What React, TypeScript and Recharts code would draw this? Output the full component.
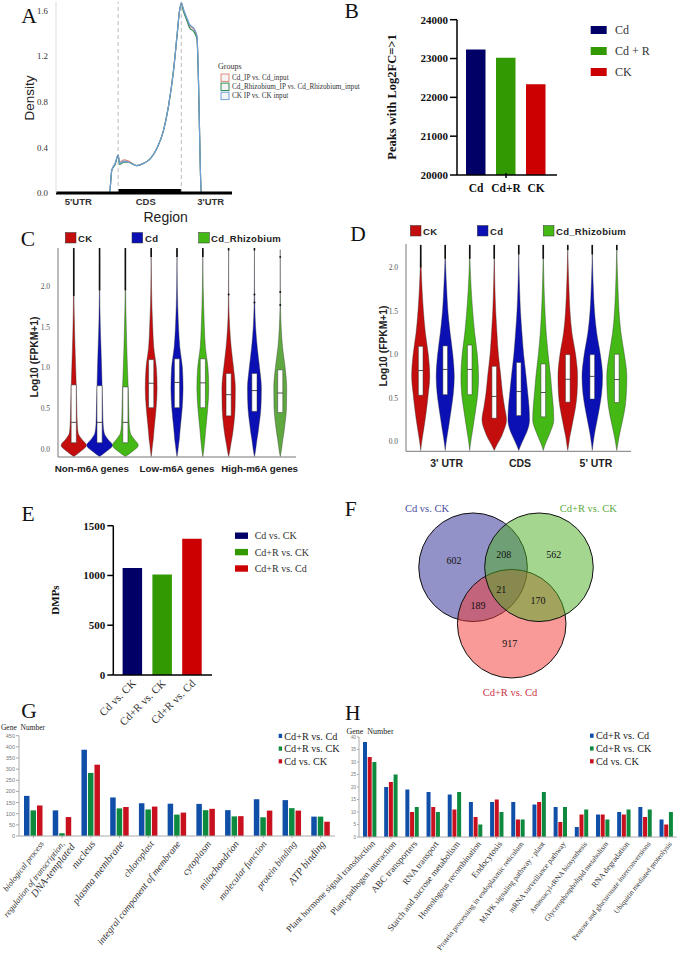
import {
  Area,
  Bar,
  BarChart,
  Cell,
  ComposedChart,
  Line,
  LineChart,
  ReferenceArea,
  ReferenceDot,
  ReferenceLine,
  Scatter,
  ScatterChart,
  XAxis,
  YAxis,
} from 'recharts';

const SERIF = '"Liberation Serif", serif';
const SANS = '"Liberation Sans", sans-serif';

// Panel A
const regionPos = [0, 30.4, 31.7, 33.6, 35.3, 36.1, 38.7, 41.2, 45.9, 49.7, 53.5, 57.3, 61.1, 63.9, 66.8, 68.7, 70.2, 71.2, 72.5, 74, 75.9, 78.6, 80.1, 81, 82, 82.5, 100];
const cdDensity = [0, 0, 0.2, 0.26, 0.33, 0.27, 0.29, 0.28, 0.24, 0.26, 0.3, 0.39, 0.55, 0.76, 1.08, 1.37, 1.6, 1.67, 1.6, 1.54, 1.47, 1.43, 1.37, 0.96, 0.22, 0, 0];
const rhizoDensity = [0, 0, 0.2, 0.25, 0.33, 0.25, 0.27, 0.27, 0.24, 0.26, 0.3, 0.39, 0.55, 0.76, 1.08, 1.37, 1.6, 1.66, 1.59, 1.53, 1.45, 1.41, 1.35, 0.95, 0.22, 0, 0];
const ckDensity = [0, 0, 0.2, 0.26, 0.33, 0.26, 0.28, 0.27, 0.24, 0.26, 0.3, 0.39, 0.55, 0.76, 1.08, 1.37, 1.6, 1.67, 1.61, 1.55, 1.48, 1.44, 1.38, 0.96, 0.22, 0, 0];
const densityTicks = [0, 0.4, 0.8, 1.2, 1.6];
const regionTicks = [12.7, 51, 87.9];
const regionLabels = ["5'UTR", 'CDS', "3'UTR"];
const groupLegend = ['Cd_IP vs. Cd_input', 'Cd_Rhizobium_IP vs. Cd_Rhizobium_input', 'CK IP vs. CK input'];

// Panel B
const peakGroups = ['Cd', 'Cd+R', 'CK'];
const peakValues = [23230, 23020, 22340];
const peakLegend = ['Cd', 'Cd + R', 'CK'];
const peakTicks = [20000, 21000, 22000, 23000, 24000];

// Panel C
const levelsC = [-0.09, -0.03, 0.05, 0.12, 0.2, 0.3, 0.5, 0.75, 1.0, 1.25, 1.5, 1.75, 2.0, 2.45];
const widthsC = [
  [0, 0.25, 0.49, 0.32, 0.17, 0.14, 0.12, 0.1, 0.075, 0.05, 0.03, 0.015, 0.006, 0],
  [0, 0.25, 0.5, 0.33, 0.18, 0.14, 0.12, 0.1, 0.08, 0.055, 0.03, 0.015, 0.006, 0],
  [0, 0.26, 0.5, 0.35, 0.19, 0.15, 0.13, 0.11, 0.08, 0.055, 0.035, 0.018, 0.007, 0],
  [0, 0.025, 0.05, 0.08, 0.1, 0.13, 0.19, 0.23, 0.2, 0.1, 0.06, 0.03, 0.013, 0],
  [0, 0.03, 0.06, 0.09, 0.11, 0.14, 0.2, 0.235, 0.21, 0.11, 0.06, 0.03, 0.012, 0],
  [0, 0.03, 0.055, 0.08, 0.1, 0.13, 0.19, 0.23, 0.2, 0.1, 0.06, 0.035, 0.015, 0],
  [0, 0.04, 0.08, 0.12, 0.16, 0.2, 0.25, 0.26, 0.19, 0.1, 0.04, 0.012, 0.004, 0],
  [0, 0.035, 0.07, 0.1, 0.14, 0.18, 0.25, 0.27, 0.2, 0.11, 0.045, 0.015, 0.004, 0],
  [0, 0.035, 0.07, 0.1, 0.14, 0.18, 0.24, 0.25, 0.19, 0.09, 0.035, 0.01, 0.003, 0],
];
const boxesC = [
  [0.08, 0.33, 0.79],
  [0.08, 0.33, 0.78],
  [0.08, 0.33, 0.765],
  [0.51, 0.81, 1.1],
  [0.51, 0.82, 1.11],
  [0.51, 0.815, 1.11],
  [0.41, 0.67, 0.93],
  [0.465, 0.72, 0.93],
  [0.45, 0.69, 0.975],
];
const tailStartC = [1.88, 1.95, 1.95, 2.36, 2.36, 2.36, 2.44, 2.44, 2.35];
const topC = [2.47, 2.47, 2.47, 2.47, 2.47, 2.47, 2.47, 2.47, 2.37];
const outliersC = [
  { pos: 7, y: 1.9 },
  { pos: 8, y: 1.9 },
  { pos: 8, y: 1.8 },
  { pos: 9, y: 1.93 },
  { pos: 9, y: 1.77 },
];
const ticksC = [0, 0.5, 1, 1.5, 2];
const groupTicksC = [1.7, 5, 8.2];
const groupLabelsC = ['Non-m6A genes', 'Low-m6A genes', 'High-m6A genes'];

// Panel D
const levelsD = [-0.1, -0.03, 0.05, 0.12, 0.25, 0.4, 0.55, 0.75, 1.0, 1.25, 1.5, 1.75, 2.0, 2.25];
const widthsD = [
  [0, 0.03, 0.07, 0.11, 0.18, 0.25, 0.31, 0.37, 0.31, 0.19, 0.11, 0.055, 0.02, 0],
  [0, 0.03, 0.07, 0.11, 0.18, 0.26, 0.33, 0.37, 0.31, 0.2, 0.11, 0.06, 0.02, 0],
  [0, 0.03, 0.07, 0.11, 0.18, 0.26, 0.33, 0.36, 0.31, 0.2, 0.12, 0.06, 0.02, 0],
  [0, 0.12, 0.28, 0.38, 0.5, 0.42, 0.34, 0.27, 0.17, 0.11, 0.06, 0.03, 0.012, 0],
  [0, 0.1, 0.23, 0.34, 0.44, 0.42, 0.37, 0.3, 0.2, 0.13, 0.07, 0.035, 0.012, 0],
  [0, 0.08, 0.2, 0.3, 0.43, 0.41, 0.36, 0.3, 0.2, 0.12, 0.07, 0.035, 0.014, 0],
  [0, 0.04, 0.08, 0.13, 0.22, 0.32, 0.38, 0.4, 0.32, 0.17, 0.09, 0.05, 0.02, 0],
  [0, 0.03, 0.07, 0.11, 0.2, 0.3, 0.38, 0.42, 0.33, 0.18, 0.09, 0.045, 0.015, 0],
  [0, 0.04, 0.09, 0.14, 0.24, 0.34, 0.39, 0.41, 0.31, 0.17, 0.09, 0.05, 0.02, 0],
];
const boxesD = [
  [0.534, 0.817, 1.095],
  [0.54, 0.83, 1.1],
  [0.54, 0.83, 1.11],
  [0.27, 0.52, 0.866],
  [0.3, 0.576, 0.91],
  [0.286, 0.565, 0.893],
  [0.454, 0.717, 1.0],
  [0.49, 0.75, 1.0],
  [0.45, 0.714, 1.004],
];
const tailStartD = [2.0, 2.1, 2.1, 2.1, 2.15, 2.1, 2.2, 2.15, 2.2];
const topD = [2.26, 2.26, 2.26, 2.26, 2.26, 2.26, 2.26, 2.26, 2.26];
const ticksD = [0, 0.5, 1, 1.5, 2];
const groupTicksD = [2.06, 5.05, 8.15];
const groupLabelsD = ["3' UTR", 'CDS', "5' UTR"];

const violinLegend = ['CK', 'Cd', 'Cd_Rhizobium'];

// Panel E
const dmpGroups = ['Cd vs. CK', 'Cd+R vs. CK', 'Cd+R vs. Cd'];
const dmpValues = [1075, 1010, 1370];
const dmpTicks = [0, 500, 1000, 1500];

// Panel F, drawn blue, red, green so the green set sits on top
const vennSets = [
  { name: 'Cd vs. CK', x: -0.607, y: 0.326 },
  { name: 'Cd+R vs. Cd', x: 0.105, y: -0.713 },
  { name: 'Cd+R vs. CK', x: 0.607, y: 0.326 },
];
const vennFills = ['#252591', '#f33531', '#4bad21'];
const vennCounts = [
  { count: 602, x: -0.96, y: 0.45 },
  { count: 208, x: -0.04, y: 0.566 },
  { count: 562, x: 0.88, y: 0.566 },
  { count: 21, x: -0.086, y: -0.09 },
  { count: 189, x: -0.516, y: -0.375 },
  { count: 170, x: 0.589, y: -0.29 },
  { count: 917, x: 0.068, y: -1.074 },
];

// Panel G
const goTerms = [
  'biological process',
  'regulation of transcription,\nDNA-templated',
  'nucleus',
  'plasma membrane',
  'chloroplast',
  'integral component of membrane',
  'cytoplasm',
  'mitochondrion',
  'molecular function',
  'protein binding',
  'ATP binding',
];
const goFontSizes = [8.3, 8.6, 10.5, 10.5, 9.5, 9.7, 10, 10, 9.5, 9.5, 10.5];
const goShiftX = [11, 3, 5, 5, 6, 4, 6, 5, 4, 5, 5];
const goCdRvsCd = [180, 115, 387, 173, 147, 145, 144, 116, 165, 161, 87];
const goCdRvsCk = [115, 12, 283, 124, 119, 96, 116, 88, 84, 125, 87];
const goCdvsCk = [137, 85, 320, 130, 132, 105, 122, 89, 114, 114, 64];
const goTicks = [0, 50, 100, 150, 200, 250, 300, 350, 400, 450];

// Panel H
const pathways = [
  'Plant hormone signal transduction',
  'Plant-pathogen interaction',
  'ABC transporters',
  'RNA transport',
  'Starch and sucrose metabolism',
  'Homologous recombination',
  'Endocytosis',
  'Protein processing in endoplasmic reticulum',
  'MAPK signaling pathway - plant',
  'mRNA surveillance pathway',
  'Aminoacyl-tRNA biosynthesis',
  'Glycerophospholipid metabolism',
  'RNA degradation',
  'Pentose and glucuronate interconversions',
  'Ubiquitin mediated proteolysis',
];
const pathwayFontSizes = [9, 9, 9.3, 9, 9, 8.6, 9, 7.6, 7.6, 7.6, 7.2, 7.4, 8, 7.4, 7.2];
const pathwayTilts = [-46, -49, -49, -52, -52, -52, -52, -52, -52, -52, -52, -52, -52, -52, -52];
const pwCdRvsCd = [38, 20, 19, 18, 17, 14, 14, 14, 13, 12, 4, 9, 10, 12, 7];
const pwCdvsCk = [32, 22, 10, 12, 11, 8, 15, 7, 14, 6, 9, 9, 9, 8, 5];
const pwCdRvsCk = [30, 25, 12, 10, 18, 5, 10, 7, 18, 12, 11, 7, 11, 11, 10];
const pwTicks = [0, 5, 10, 15, 20, 25, 30, 35, 40];
const compareLegend = ['Cd+R vs. Cd', 'Cd+R vs. CK', 'Cd vs. CK'];

const NAVY = '#000066';
const GREEN = '#339900';
const RED = '#cc0000';
const peakColors = [NAVY, GREEN, RED];
const violinColors = ['#c40d0d', '#0a10b4', '#44b814'];
const BLUE2 = '#0f4fa8';
const GREEN2 = '#0d8a3e';
const RED2 = '#c8101e';

const densityRows = regionPos.map((pos, i) => ({ pos, cd: cdDensity[i], rhizo: rhizoDensity[i], ck: ckDensity[i] }));

const buildViolinRows = (levels: number[], widths: number[][]) =>
  levels.map((y, i) => {
    const row: any = { y };
    widths.forEach((w, j) => {
      row[`v${j}`] = [j + 1 - w[i], j + 1 + w[i]];
    });
    return row;
  });

const at = (left: number, top: number) => ({ position: 'absolute' as const, left, top });

const Txt = ({ x, y, size, fill = '#222', font = SERIF, weight = 'normal', anchor = 'start', rotate, spacing, children }: any) => (
  <text
    x={x}
    y={y}
    fontSize={size}
    fill={fill}
    fontFamily={font}
    fontWeight={weight}
    textAnchor={anchor}
    dominantBaseline="central"
    letterSpacing={spacing}
    transform={rotate ? `rotate(${rotate} ${x} ${y})` : undefined}
  >
    {children}
  </text>
);

const Violins = ({ left, top, width, height, marginTop, yWidth, marginRight, xDomain, yDomain, levels, widths, boxes, tailStart, tops, ticks, groupTicks, groupLabels, groupFont, outliers = [], boxHalf, lastGreen }: any) => {
  const rows = buildViolinRows(levels, widths);
  return (
    <div style={at(left, top)}>
      <ComposedChart
        width={width}
        height={height}
        layout="vertical"
        data={rows}
        margin={{ top: marginTop, right: marginRight, bottom: 0, left: 0 }}
      >
        <XAxis
          type="number"
          domain={xDomain}
          ticks={groupTicks}
          tickFormatter={(v: number) => groupLabels[groupTicks.indexOf(v)]}
          interval={0}
          height={22}
          stroke="#777"
          tickLine={false}
          allowDataOverflow
          tick={{ fontSize: groupFont, fontFamily: SANS, fontWeight: 'bold', fill: '#222' }}
        />
        <YAxis
          type="number"
          dataKey="y"
          reversed
          domain={yDomain}
          ticks={ticks}
          tickFormatter={(v: number) => v.toFixed(1)}
          width={yWidth}
          stroke="#777"
          tickLine={false}
          tickMargin={2}
          allowDataOverflow
          tick={{ fontSize: 7.5, fontFamily: SERIF, fill: '#555' }}
        />
        {widths.map((_: number[], j: number) => (
          <Area
            key={j}
            dataKey={`v${j}`}
            type="monotone"
            fill={lastGreen && j === 8 ? lastGreen : violinColors[j % 3]}
            fillOpacity={1}
            stroke="#333"
            strokeWidth={0.4}
            dot={false}
            activeDot={false}
            isAnimationActive={false}
          />
        ))}
        {boxes.map((_: number[], j: number) => (
          <ReferenceLine
            key={`stem${j}`}
            segment={[{ x: j + 1, y: levels[0] - 0.02 }, { x: j + 1, y: tops[j] }]}
            stroke="#333"
            strokeWidth={0.7}
          />
        ))}
        {boxes.map((_: number[], j: number) => (
          <ReferenceLine
            key={`tail${j}`}
            segment={[{ x: j + 1, y: tailStart[j] }, { x: j + 1, y: tops[j] }]}
            stroke="#111"
            strokeWidth={1.6}
          />
        ))}
        {boxes.map((b: number[], j: number) => (
          <ReferenceArea
            key={`box${j}`}
            x1={j + 1 - boxHalf}
            x2={j + 1 + boxHalf}
            y1={b[0]}
            y2={b[2]}
            fill="#fff"
            fillOpacity={1}
            stroke="#333"
            strokeWidth={0.5}
          />
        ))}
        {boxes.map((b: number[], j: number) => (
          <ReferenceLine
            key={`med${j}`}
            segment={[{ x: j + 1 - boxHalf, y: b[1] }, { x: j + 1 + boxHalf, y: b[1] }]}
            stroke="#222"
            strokeWidth={0.8}
          />
        ))}
        {outliers.map((o: any, i: number) => (
          <ReferenceDot key={`o${i}`} x={o.pos} y={o.y} r={1} fill="#111" stroke="none" />
        ))}
      </ComposedChart>
    </div>
  );
};

const SlantTick = ({ x, y, payload, labels, sizes, size, italic, tilt = -52, tilts, shiftX = 6, shiftXs, shiftY = 9 }: any) => {
  const index = labels.indexOf(payload.value);
  const lines = String(payload.value).split('\n');
  const fontSize = sizes ? sizes[index] : size;
  const angle = tilts ? tilts[index] : tilt;
  const dx = shiftXs ? shiftXs[index] : shiftX;
  return (
    <g transform={`translate(${x + dx},${y + shiftY}) rotate(${angle})`}>
      <text textAnchor="end" fontSize={fontSize} fontFamily={SERIF} fontStyle={italic ? 'italic' : 'normal'} fill="#333">
        {lines.map((line, i) => (
          <tspan key={i} x={i === 0 ? 0 : 4} dy={i === 0 ? 0 : fontSize * 1.15} fontSize={i === 0 ? fontSize : fontSize * 1.2}>
            {line}
          </tspan>
        ))}
      </text>
    </g>
  );
};

const goRows = goTerms.map((term, i) => ({ term, a: goCdRvsCd[i], b: goCdRvsCk[i], c: goCdvsCk[i] }));
const pwRows = pathways.map((term, i) => ({ term, a: pwCdRvsCd[i], b: pwCdvsCk[i], c: pwCdRvsCk[i] }));
const peakRows = peakGroups.map((name, i) => ({ name, value: peakValues[i] }));
const dmpRows = dmpGroups.map((name, i) => ({ name, value: dmpValues[i] }));

const App = () => (
  <div style={{ position: 'absolute', left: 0, top: 0, width: 678, height: 956, background: '#fff', overflow: 'hidden' }}>
    {/* A */}
    <div style={at(20, 0)}>
      <LineChart width={216} height={213} data={densityRows} margin={{ top: 1.6, right: 4, bottom: 0, left: 0 }}>
        <XAxis
          type="number"
          dataKey="pos"
          domain={[0, 100]}
          ticks={regionTicks}
          tickFormatter={(v: number) => regionLabels[regionTicks.indexOf(v)]}
          interval={0}
          height={20}
          stroke="#000"
          strokeWidth={3}
          tickLine={false}
          tickSize={3}
          tick={{ fontSize: 9.5, fontFamily: SANS, fontWeight: 'bold', fill: '#333' }}
        />
        <YAxis
          domain={[0, 1.68]}
          ticks={densityTicks}
          tickFormatter={(v: number) => v.toFixed(1)}
          width={36}
          stroke="#ddd"
          tickLine={false}
          tickMargin={2}
          allowDataOverflow
          tick={{ fontSize: 8.8, fontFamily: SERIF, fill: '#333' }}
        />
        <ReferenceLine x={35.3} stroke="#bbb" strokeDasharray="4 3" />
        <ReferenceLine x={71.2} stroke="#bbb" strokeDasharray="4 3" />
        <ReferenceArea x1={35.3} x2={71.2} y1={0} y2={0.035} fill="#000" fillOpacity={1} stroke="none" />
        <Line dataKey="cd" type="monotone" stroke="#e08a7c" strokeWidth={1.2} dot={false} isAnimationActive={false} />
        <Line dataKey="rhizo" type="monotone" stroke="#2e8b57" strokeWidth={1.2} dot={false} isAnimationActive={false} />
        <Line dataKey="ck" type="monotone" stroke="#6f9fd8" strokeWidth={1.2} dot={false} isAnimationActive={false} />
      </LineChart>
    </div>

    {/* B */}
    <div style={at(400, 10)}>
      <BarChart width={160} height={190} data={peakRows} margin={{ top: 9.7, right: 3, bottom: 0, left: 0 }}>
        <XAxis
          dataKey="name"
          padding={{ left: 4, right: 6 }}
          height={25}
          stroke="#000"
          strokeWidth={1.5}
          tickLine={false}
          interval={0}
          tick={({ x, y, payload }: any) => (
            <g>
              {payload.value === 'Cd+R' && <line x1={x} x2={x} y1={y - 10} y2={y - 5} stroke="#000" strokeWidth={1.5} />}
              <text x={x} y={y + 9} textAnchor="middle" fontSize={11.5} fontFamily={SERIF} fontWeight="bold" fill="#111">
                {payload.value}
              </text>
            </g>
          )}
        />
        <YAxis
          domain={[20000, 24000]}
          ticks={peakTicks}
          width={57}
          stroke="#000"
          strokeWidth={1.5}
          tickSize={7}
          tick={{ fontSize: 11, fontFamily: SERIF, fontWeight: 'bold', fill: '#111' }}
        />
        <Bar dataKey="value" barSize={19.5} isAnimationActive={false}>
          {peakRows.map((_, i) => (
            <Cell key={i} fill={peakColors[i]} />
          ))}
        </Bar>
      </BarChart>
    </div>

    {/* C */}
    <Violins
      left={20}
      top={240}
      width={280}
      height={239}
      marginTop={8}
      yWidth={38}
      marginRight={4}
      xDomain={[0.39, 9.61]}
      yDomain={[-0.095, 2.47]}
      levels={levelsC}
      widths={widthsC}
      boxes={boxesC}
      tailStart={tailStartC}
      tops={topC}
      ticks={ticksC}
      groupTicks={groupTicksC}
      groupLabels={groupLabelsC}
      groupFont={9.8}
      outliers={outliersC}
      boxHalf={0.1}
      lastGreen="#5fa83f"
    />

    {/* D */}
    <Violins
      left={366}
      top={238}
      width={269}
      height={235.3}
      marginTop={6}
      yWidth={40}
      marginRight={4}
      xDomain={[0.4, 9.58]}
      yDomain={[-0.11, 2.27]}
      levels={levelsD}
      widths={widthsD}
      boxes={boxesD}
      tailStart={tailStartD}
      tops={topD}
      ticks={ticksD}
      groupTicks={groupTicksD}
      groupLabels={groupLabelsD}
      groupFont={10.5}
      boxHalf={0.095}
    />

    {/* E */}
    <div style={at(70, 515)}>
      <BarChart width={145} height={230} data={dmpRows} margin={{ top: 10.7, right: 3, bottom: 0, left: 0 }}>
        <XAxis
          dataKey="name"
          padding={{ left: 4.3, right: 5 }}
          height={70}
          stroke="#000"
          strokeWidth={1.5}
          tickLine={false}
          interval={0}
          tick={(p: any) => <SlantTick {...p} labels={dmpGroups} size={11} tilt={-45} shiftX={4} shiftY={1} />}
        />
        <YAxis
          domain={[0, 1500]}
          ticks={dmpTicks}
          width={43.3}
          stroke="#000"
          strokeWidth={1.5}
          tickSize={6}
          tick={{ fontSize: 11, fontFamily: SERIF, fontWeight: 'bold', fill: '#111' }}
        />
        <Bar dataKey="value" barSize={19.5} isAnimationActive={false}>
          {dmpRows.map((_, i) => (
            <Cell key={i} fill={peakColors[i]} />
          ))}
        </Bar>
      </BarChart>
    </div>

    {/* F */}
    <div style={at(410, 505)}>
      <ScatterChart width={200} height={185} margin={{ top: 0, right: 0, bottom: 0, left: 0 }}>
        <XAxis type="number" dataKey="x" domain={[-1.768, 1.915]} hide />
        <YAxis type="number" dataKey="y" domain={[-1.934, 1.473]} hide />
        {vennSets.map((s, i) => (
          <Scatter
            key={s.name}
            data={[s]}
            isAnimationActive={false}
            shape={(p: any) => (
              <circle cx={p.cx} cy={p.cy} r={54.3} fill={vennFills[i]} fillOpacity={0.5} stroke="#111" strokeWidth={1} />
            )}
          />
        ))}
        <Scatter
          data={vennCounts}
          isAnimationActive={false}
          shape={(p: any) => (
            <text x={p.cx} y={p.cy} textAnchor="middle" dominantBaseline="central" fontSize={10} fontFamily={SERIF} fill="#111">
              {p.payload.count}
            </text>
          )}
        />
      </ScatterChart>
    </div>

    {/* G */}
    <div style={at(0, 730)}>
      <BarChart width={337} height={222} data={goRows} barSize={5.5} barGap={1} margin={{ top: 5.7, right: 2, bottom: 0, left: 0 }}>
        <XAxis
          dataKey="term"
          height={116}
          stroke="#aaa"
          tickSize={2}
          interval={0}
          tick={(p: any) => <SlantTick {...p} labels={goTerms} sizes={goFontSizes} shiftXs={goShiftX} italic shiftY={4} />}
        />
        <YAxis
          domain={[0, 450]}
          ticks={goTicks}
          width={19}
          stroke="#aaa"
          tickSize={3}
          tickMargin={1}
          tick={{ fontSize: 5.5, fontFamily: SANS, fill: '#777' }}
        />
        <Bar dataKey="a" fill={BLUE2} isAnimationActive={false} />
        <Bar dataKey="b" fill={GREEN2} isAnimationActive={false} />
        <Bar dataKey="c" fill={RED2} isAnimationActive={false} />
      </BarChart>
    </div>

    {/* H */}
    <div style={at(270, 730)}>
      <BarChart width={408} height={226} data={pwRows} barSize={4} barGap={0.7} margin={{ top: 7, right: 1.3, bottom: 0, left: 0 }}>
        <XAxis
          dataKey="term"
          height={119}
          stroke="#aaa"
          tickSize={2}
          interval={0}
          tick={(p: any) => <SlantTick {...p} labels={pathways} sizes={pathwayFontSizes} tilts={pathwayTilts} shiftX={6} shiftY={3} />}
        />
        <YAxis
          domain={[0, 40]}
          ticks={pwTicks}
          width={89}
          stroke="#aaa"
          tickSize={2}
          tickMargin={1}
          tick={{ fontSize: 4.5, fontFamily: SANS, fill: '#777' }}
        />
        <Bar dataKey="a" fill={BLUE2} isAnimationActive={false} />
        <Bar dataKey="b" fill={RED2} isAnimationActive={false} />
        <Bar dataKey="c" fill={GREEN2} isAnimationActive={false} />
      </BarChart>
    </div>

    {/* panel letters, axis titles and legends */}
    <svg width={678} height={956} style={{ ...at(0, 0), pointerEvents: 'none' }}>
      {[
        ['A', 29, 16],
        ['B', 351.7, 11],
        ['C', 28, 239],
        ['D', 358, 234],
        ['E', 28, 514],
        ['F', 350.7, 509],
        ['G', 29, 711],
        ['H', 352.7, 713],
      ].map(([l, x, y]) => (
        <Txt key={l as string} x={x} y={y} size={21.5} fill="#111" anchor="middle">
          {l}
        </Txt>
      ))}

      <Txt x={29} y={98} size={13.5} font={SANS} anchor="middle" rotate={-90}>Density</Txt>
      <Txt x={165.7} y={217} size={14} font={SANS} anchor="middle">Region</Txt>
      <Txt x={218} y={66.7} size={8} fill="#333">Groups</Txt>
      {groupLegend.map((g, i) => (
        <g key={g}>
          <rect x={221} y={74 + i * 9.1} width={8} height={7.4} fill="#f4f4f4" stroke={['#e08a7c', '#2e8b57', '#6f9fd8'][i]} strokeWidth={1} />
          <Txt x={232} y={77.7 + i * 9.1} size={7.2} fill="#333">{g}</Txt>
        </g>
      ))}

      <Txt x={391.7} y={97} size={12.5} weight="bold" anchor="middle" rotate={-90} fill="#111">Peaks with Log2FC=&gt;1</Txt>
      {peakLegend.map((g, i) => (
        <g key={g}>
          <rect x={590.7} y={26 + i * 21} width={16} height={8} fill={peakColors[i]} />
          <Txt x={615} y={30 + i * 21} size={12} fill="#333">{g}</Txt>
        </g>
      ))}

      <Txt x={34.3} y={357} size={10.3} font={SANS} weight="bold" anchor="middle" rotate={-90}>Log10 (FPKM+1)</Txt>
      {violinLegend.map((g, i) => (
        <g key={`c${g}`}>
          <rect x={[65.3, 132, 198.7][i]} y={232.5} width={10.7} height={10.5} fill={violinColors[i]} stroke="#333" strokeWidth={0.5} />
          <Txt x={[78, 145, 211][i]} y={238} size={9.5} font={SANS} weight="bold" spacing={0.3}>{g}</Txt>
        </g>
      ))}

      <Txt x={383} y={346} size={10.3} font={SANS} weight="bold" anchor="middle" rotate={-90}>Log10 (FPKM+1)</Txt>
      {violinLegend.map((g, i) => (
        <g key={`d${g}`}>
          <rect x={[410.3, 477.3, 543.3][i]} y={225.5} width={10.7} height={10.5} fill={violinColors[i]} stroke="#333" strokeWidth={0.5} />
          <Txt x={[423, 490, 556][i]} y={231} size={9.5} font={SANS} weight="bold" spacing={0.3}>{g}</Txt>
        </g>
      ))}

      <Txt x={55} y={600} size={11} weight="bold" anchor="middle" rotate={-90} fill="#111">DMPs</Txt>
      {dmpGroups.map((g, i) => (
        <g key={g}>
          <rect x={235} y={532.5 + i * 16.4} width={13} height={6.4} fill={peakColors[i]} />
          <Txt x={254.7} y={535.7 + i * 16.4} size={10} fill="#333">{g}</Txt>
        </g>
      ))}

      <Txt x={427} y={508} size={10.5} fill="#4a4aa0" anchor="middle">Cd vs. CK</Txt>
      <Txt x={588.3} y={508} size={10.5} fill="#5caa44" anchor="middle">Cd+R vs. CK</Txt>
      <Txt x={510} y={692} size={10.5} fill="#cc3344" anchor="middle">Cd+R vs. Cd</Txt>

      <Txt x={23} y={727} size={7.5} anchor="middle">Gene{'\u00a0\u00a0'}Number</Txt>
      {compareLegend.map((g, i) => (
        <g key={`g${g}`}>
          <rect x={278.7} y={733.8 + i * 12.7} width={3.4} height={4.2} fill={[BLUE2, GREEN2, RED2][i]} />
          <Txt x={284.3} y={736 + i * 12.7} size={10.2}>{g}</Txt>
        </g>
      ))}

      <Txt x={370} y={731} size={8} anchor="middle">Gene{'\u00a0\u00a0'}Number</Txt>
      {compareLegend.map((g, i) => (
        <g key={`h${g}`}>
          <rect x={590} y={733.6 + i * 12.8} width={3.6} height={4.2} fill={[BLUE2, GREEN2, RED2][i]} />
          <Txt x={596} y={735.7 + i * 12.8} size={10.2}>{g}</Txt>
        </g>
      ))}
    </svg>
  </div>
);

export default App;
